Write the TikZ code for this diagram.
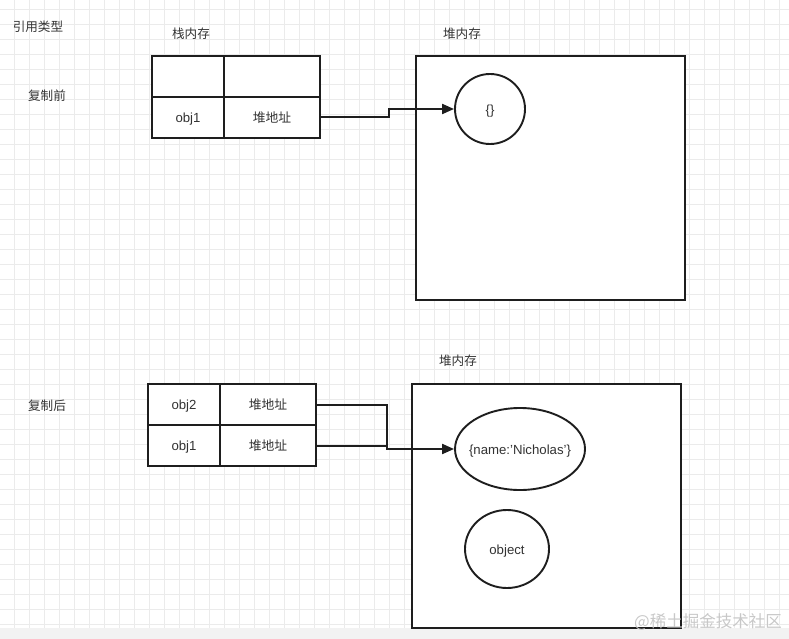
\documentclass[tikz,border=0pt]{standalone}
\usepackage{fontspec}
\setmainfont{Liberation Sans}
\newfontfamily\cjk{Noto Sans CJK SC}
\usetikzlibrary{shapes.geometric, arrows.meta}
\definecolor{ink}{HTML}{1E1E1E}
\definecolor{textgrey}{HTML}{333333}
\definecolor{gridgrey}{HTML}{EBEBEB}
\definecolor{bargrey}{HTML}{F2F2F2}
\definecolor{markgrey}{HTML}{C8C8C8}
\tikzstyle{cell} = [
    rectangle,
    minimum height=41pt,
    inner sep=0pt,
    text height=11.5pt,
    text depth=1pt,
    draw=ink,
    line width=2pt,
    fill=white,
    text=textgrey,
    font=\fontsize{13.2}{15}\selectfont
]
\tikzstyle{namecell} = [cell, minimum width=72pt]
\tikzstyle{addrcell} = [cell, minimum width=96pt, font=\cjk\fontsize{12.8}{15}\selectfont]
\tikzstyle{heap} = [
    rectangle,
    minimum width=269pt,
    minimum height=244pt,
    draw=ink,
    line width=2pt,
    fill=white
]
\tikzstyle{object} = [
    ellipse,
    inner sep=0pt,
    text height=12pt,
    text depth=1pt,
    draw=ink,
    line width=1.9pt,
    text=textgrey,
    font=\fontsize{13.2}{15}\selectfont
]
\tikzstyle{objtext} = [
    inner sep=0pt,
    text height=12pt,
    text depth=1pt,
    text=textgrey,
    font=\fontsize{13.2}{15}\selectfont
]
\tikzstyle{memlabel} = [text=textgrey, font=\cjk\fontsize{12.6}{15}\selectfont]
\tikzstyle{wire} = [draw=ink, line width=2pt]
\tikzstyle{wirearrow} = [draw=ink, line width=2pt, -{Triangle[length=12pt,width=10pt]}]

\begin{document}
\begin{tikzpicture}[x=1pt, y=-1pt]
\useasboundingbox (0,0) rectangle (789,639);

% background grid
\foreach \gx in {14.3,29.3,...,789} \draw[gridgrey, line width=0.8pt] (\gx,0) -- (\gx,628);
\foreach \gy in {9.3,24.3,...,628} \draw[gridgrey, line width=0.8pt] (0,\gy) -- (789,\gy);
\fill[bargrey] (0,628) rectangle (789,639);

\node (title) [memlabel] at (38,27) {引用类型};

% before copy
\node (before) [memlabel] at (47,96) {复制前};
\node (stackA) [memlabel] at (191,34) {栈内存};
\node (heapAlabel) [memlabel] at (462,34) {堆内存};

\node (nameA0) [namecell] at (188,76.5) {};
\node (addrA0) [addrcell] at (272,76.5) {};
\node (nameA1) [namecell] at (188,117.5) {obj1};
\node (addrA1) [addrcell] at (272,117.5) {堆地址};

\node (heapA) [heap] at (550.5,178) {};
\node (emptyobj) [object, minimum width=70pt, minimum height=70pt] at (490,109) {\{\}};

\draw [wirearrow] (addrA1.east) -- ++(68,0) |- (emptyobj.west);

% after copy
\node (after) [memlabel] at (47,406) {复制后};
\node (heapBlabel) [memlabel] at (458,361) {堆内存};

\node (nameB2) [namecell] at (184,404.5) {obj2};
\node (addrB2) [addrcell] at (268,404.5) {堆地址};
\node (nameB1) [namecell] at (184,445.5) {obj1};
\node (addrB1) [addrcell] at (268,445.5) {堆地址};

\node (heapB) [heap] at (546.5,506) {};
\node (nicholas) [object, minimum width=130pt, minimum height=82pt] at (520,449) {};
\node (nicholastext) [objtext] at (nicholas.center) {\{name:'Nicholas'\}};
\node (plainobj) [object, minimum width=84pt, minimum height=78pt] at (507,549) {object};

\draw [wirearrow] (addrB2.east) -- ++(70,0) |- (nicholas.west);
\draw [wire] (addrB1.east) -- ++(70,0);

\node (mark) [text=markgrey, font=\cjk\fontsize{16.5}{18}\selectfont] at (708,622) {@稀土掘金技术社区};

\end{tikzpicture}
\end{document}
